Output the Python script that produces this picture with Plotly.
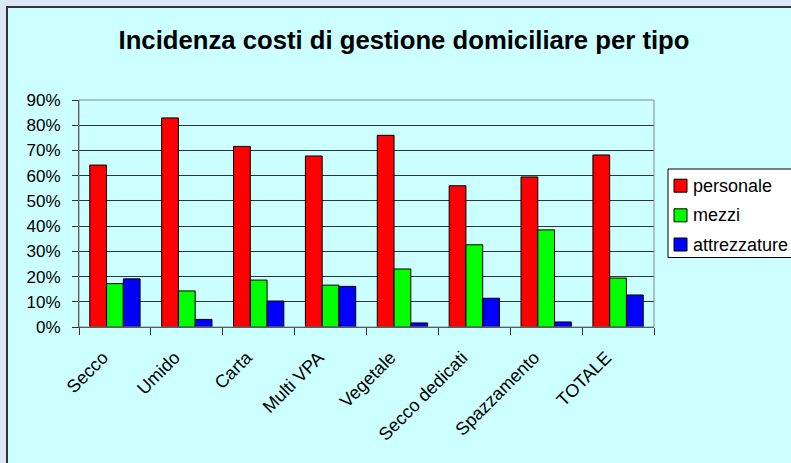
import plotly.graph_objects as go

categories = ["Secco", "Umido", "Carta", "Multi VPA", "Vegetale",
              "Secco dedicati", "Spazzamento", "TOTALE"]
personale = [0.642, 0.829, 0.716, 0.678, 0.760, 0.560, 0.595, 0.682]
mezzi = [0.172, 0.143, 0.186, 0.166, 0.230, 0.326, 0.385, 0.194]
attrezzature = [0.191, 0.030, 0.103, 0.161, 0.016, 0.114, 0.020, 0.127]
series_names = ["personale", "mezzi", "attrezzature"]
series_colors = ["#FF0000", "#00FF00", "#0000FF"]

W, H = 791, 463
L, R, T, B = 79, 654, 100, 327
pw, ph = R - L, B - T


def px_x(x):
    return (x - L) / pw


def px_y(y):
    return (B - y) / ph


font = "Liberation Sans, Arial, sans-serif"

fig = go.Figure()
for name, vals, col in zip(series_names, [personale, mezzi, attrezzature], series_colors):
    fig.add_trace(go.Bar(
        x=categories, y=vals, name=name,
        marker=dict(color=col, line=dict(color="#000000", width=1)),
    ))

shapes = [
    # chart area frame (cyan panel)
    dict(type="rect", xref="paper", yref="paper", layer="below",
         x0=px_x(7), x1=px_x(W + 10), y0=px_y(H + 10), y1=px_y(7),
         fillcolor="#CCFFFF", line=dict(color="#333333", width=2)),
    # plot area border (top/right gray)
    dict(type="rect", xref="paper", yref="paper", layer="above",
         x0=0, x1=1, y0=0, y1=1,
         line=dict(color="#888888", width=1)),
    # legend box
    dict(type="rect", xref="paper", yref="paper", layer="above",
         x0=px_x(668), x1=px_x(W + 10), y0=px_y(257.5), y1=px_y(169),
         fillcolor="#FFFFFF", line=dict(color="#000000", width=1)),
]
annotations = []
item_y = [185.7, 215.3, 244.5]
for name, col, yc in zip(series_names, series_colors, item_y):
    shapes.append(dict(type="rect", xref="paper", yref="paper", layer="above",
                       x0=px_x(674), x1=px_x(687), y0=px_y(yc + 6.5), y1=px_y(yc - 6.5),
                       fillcolor=col, line=dict(color="#000000", width=1)))
    annotations.append(dict(text=name, xref="paper", yref="paper",
                            x=px_x(691), y=px_y(yc), xanchor="left", yanchor="middle",
                            showarrow=False,
                            font=dict(family=font, size=18, color="#000000")))

fig.update_layout(
    width=W, height=H,
    margin=dict(l=L, r=W - R, t=T, b=H - B, autoexpand=False),
    paper_bgcolor="#dce7f5",
    plot_bgcolor="#CCFFFF",
    barmode="group",
    bargap=0.3,
    bargroupgap=0,
    showlegend=False,
    title=dict(
        text="<b>Incidenza costi di gestione domiciliare per tipo</b>",
        font=dict(family=font, size=25.7, color="#000000"),
        x=404 / W, xanchor="center",
        y=1 - 40 / H, yanchor="middle",
    ),
    xaxis=dict(
        type="category",
        tickangle=-45,
        tickson="boundaries",
        ticks="outside", ticklen=7, tickcolor="#333333",
        ticklabelshift=-12, ticklabelstandoff=12,
        showline=True, linecolor="#333333", linewidth=1,
        showgrid=False,
        tickfont=dict(family=font, size=18, color="#000000"),
    ),
    yaxis=dict(
        range=[0, 0.9], dtick=0.1, tickformat=".0%",
        ticks="outside", ticklen=6, tickcolor="#333333",
        ticklabelstandoff=8,
        showline=True, linecolor="#333333", linewidth=1,
        showgrid=True, gridcolor="#333333", gridwidth=1,
        zeroline=False,
        tickfont=dict(family=font, size=17, color="#000000"),
    ),
    shapes=shapes,
    annotations=annotations,
)

fig.write_html(
    "out.html",
    config={"displayModeBar": False},
    post_script="document.body.style.margin='0px';"
                "document.body.style.background='#dce7f5';",
)
